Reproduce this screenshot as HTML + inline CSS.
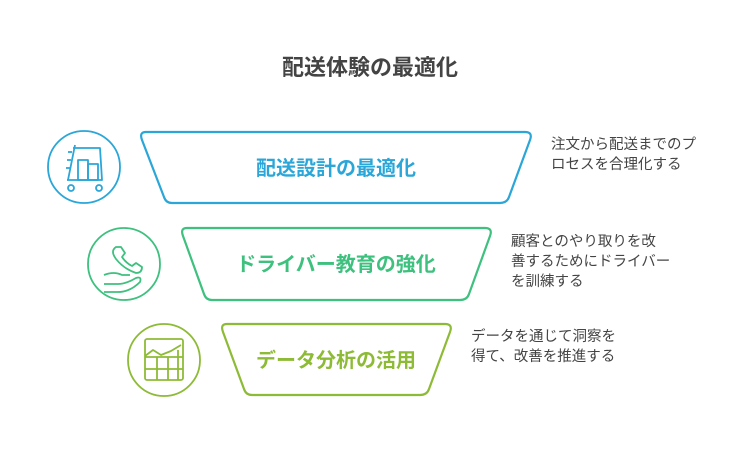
<!DOCTYPE html>
<html><head><meta charset="utf-8"><style>
body{margin:0;width:741px;height:468px;background:#fff;overflow:hidden;font-family:"Liberation Sans","Noto Sans CJK JP",sans-serif}
svg{position:absolute;left:0;top:0}
.d{position:absolute;font-size:14.5px;color:#444;line-height:20px}
</style></head><body>
<svg width="741" height="468">
<text x="370" y="75" text-anchor="middle" font-size="22" font-weight="bold" fill="#444" font-family="Liberation Sans,Noto Sans CJK JP,sans-serif">配送体験の最適化</text>
<g fill="none" stroke-width="2.2" stroke-linejoin="round">
<path d="M146,132 L525,132 Q533,132 530,140 L509,197 Q507,203 500,203 L172,203 Q166,203 164,197 L142,140 Q139,132 146,132Z" stroke="#2aa6d8"/>
<path d="M187,228 L485,228 Q493,228 490,236 L469,294 Q467,300 460,300 L212,300 Q206,300 204,294 L183,236 Q180,228 187,228Z" stroke="#3ec07e"/>
<path d="M227,324 L445,324 Q453,324 450,332 L429,389 Q427,395 420,395 L252,395 Q246,395 244,389 L223,332 Q220,324 227,324Z" stroke="#8dbb36"/>
<circle cx="84" cy="167" r="36" stroke="#2aa6d8" stroke-width="1.8"/>
<circle cx="124" cy="264" r="36" stroke="#3ec07e" stroke-width="1.8"/>
<circle cx="164" cy="360" r="36" stroke="#8dbb36" stroke-width="1.8"/>
<g stroke="#2aa6d8" stroke-width="1.8"><path d="M73,148 L100,148 L102,180 L67,180"/><rect x="78" y="160" width="10" height="20"/><rect x="88" y="164" width="10" height="16"/><circle cx="71" cy="188" r="3"/><circle cx="99" cy="188" r="3"/><path d="M75,145 L68,180 M68,152 h4 M67,160 h4 M66,168 h4"/></g>
<g stroke="#3ec07e" stroke-width="1.8"><path d="M116,247 q-6,4 0,12 q8,10 20,14 q6,0 6,-6 l-6,-4 l-4,3 q-6,-3 -10,-9 l3,-4 l-4,-6 z"/><path d="M104,284 l14,0 q8,0 18,-6 q6,-2 4,4 q-10,10 -22,10 l-14,0"/><path d="M104,275 q10,-4 18,0 l8,0"/></g>
<g stroke="#8dbb36" stroke-width="1.8"><rect x="145" y="339" width="38" height="41" rx="2"/><path d="M145,357 h38 M145,369 h38 M157,357 v23 M168,357 v23 M178,350 v30 M145,356 l8,-6 l8,5 l10,-4 l10,-6"/></g>
</g>
<g font-weight="bold" font-size="20" text-anchor="middle" font-family="Liberation Sans,Noto Sans CJK JP,sans-serif">
<text x="336" y="175" fill="#2aa6d8">配送設計の最適化</text>
<text x="336" y="271" fill="#3ec07e">ドライバー教育の強化</text>
<text x="336" y="367" fill="#8dbb36">データ分析の活用</text>
</g>
</svg>
<div class="d" style="left:551px;top:135px">注文から配送までのプ<br>ロセスを合理化する</div>
<div class="d" style="left:511px;top:232px">顧客とのやり取りを改<br>善するためにドライバー<br>を訓練する</div>
<div class="d" style="left:471px;top:327px">データを通じて洞察を<br>得て、改善を推進する</div>
</body></html>
